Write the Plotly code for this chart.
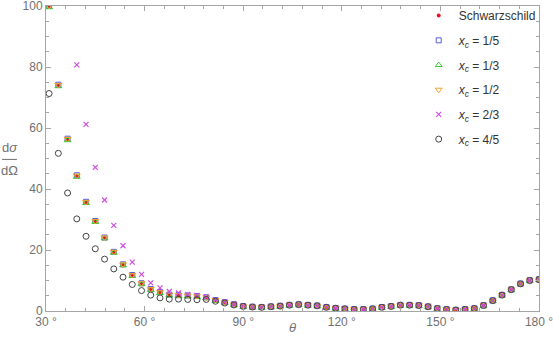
import plotly.graph_objects as go

# scattering angle (degrees)
theta = [30.938, 33.75, 36.563, 39.375, 42.188, 45.0, 47.813, 50.625, 53.438, 56.25,
         59.063, 61.875, 64.688, 67.5, 70.313, 73.125, 75.938, 78.75, 81.563, 84.375,
         87.188, 90.0, 92.813, 95.625, 98.438, 101.25, 104.063, 106.875, 109.688, 112.5,
         115.313, 118.125, 120.938, 123.75, 126.563, 129.375, 132.188, 135.0, 137.813, 140.625,
         143.438, 146.25, 149.063, 151.875, 154.688, 157.5, 160.313, 163.125, 165.938, 168.75,
         171.563, 174.375, 177.188, 180.0]

schwarzschild = [100.0, 74.0, 56.3, 44.3, 35.6, 29.4, 24.0, 19.3, 15.2, 11.7,
                 9.0, 7.1, 6.1, 5.3, 5.1, 5.0, 4.8, 4.4, 3.5, 2.8,
                 2.1, 1.5, 1.3, 1.2, 1.4, 1.6, 1.9, 2.1, 1.9, 1.7,
                 1.2, 0.9, 0.7, 0.5, 0.5, 0.7, 1.2, 1.5, 1.9, 1.9,
                 1.8, 1.4, 0.8, 0.5, 0.3, 0.5, 0.8, 1.8, 3.4, 5.2,
                 7.0, 8.9, 10.0, 10.3]

xc_1_5 = [100.0, 74.2, 56.5, 44.5, 35.8, 29.5, 24.1, 19.4, 15.3, 11.8,
          9.1, 7.2, 6.2, 5.4, 5.2, 5.1, 4.9, 4.5, 3.6, 2.9,
          2.2, 1.6, 1.4, 1.3, 1.5, 1.7, 2.0, 2.2, 2.0, 1.8,
          1.3, 1.0, 0.8, 0.6, 0.6, 0.8, 1.3, 1.6, 2.0, 2.0,
          1.9, 1.5, 0.9, 0.6, 0.4, 0.6, 0.9, 1.9, 3.5, 5.3,
          7.1, 9.0, 10.1, 10.4]

xc_1_3 = [99.6, 73.7, 56.0, 44.0, 35.4, 29.2, 23.8, 19.1, 15.0, 11.5,
          8.8, 6.9, 5.9, 5.1, 4.9, 4.8, 4.6, 4.2, 3.3, 2.6,
          1.9, 1.3, 1.1, 1.0, 1.2, 1.4, 1.7, 1.9, 1.7, 1.5,
          1.0, 0.7, 0.5, 0.3, 0.3, 0.5, 1.0, 1.3, 1.7, 1.7,
          1.6, 1.2, 0.6, 0.3, 0.1, 0.3, 0.6, 1.6, 3.2, 5.0,
          6.8, 8.7, 9.8, 10.1]

xc_1_2 = [100.0, 74.1, 56.4, 44.4, 35.7, 29.5, 24.1, 19.4, 15.3, 11.8,
          9.1, 7.2, 6.2, 5.4, 5.2, 5.1, 4.9, 4.5, 3.6, 2.9,
          2.2, 1.6, 1.4, 1.3, 1.5, 1.7, 2.0, 2.2, 2.0, 1.8,
          1.3, 1.0, 0.8, 0.6, 0.6, 0.8, 1.3, 1.6, 2.0, 2.0,
          1.9, 1.5, 0.9, 0.6, 0.4, 0.6, 0.9, 1.9, 3.5, 5.3,
          7.1, 9.0, 10.1, 10.4]

xc_2_3 = [None, None, None, 80.7, 61.2, 47.1, 36.4, 28.1, 21.4, 16.0,
          12.0, 9.2, 7.6, 6.4, 5.9, 5.4, 5.1, 4.6, 3.7, 2.9,
          2.2, 1.6, 1.3, 1.2, 1.4, 1.6, 1.9, 2.1, 1.9, 1.7,
          1.2, 0.9, 0.7, 0.5, 0.5, 0.7, 1.2, 1.5, 1.9, 1.9,
          1.8, 1.4, 0.8, 0.5, 0.3, 0.5, 0.8, 1.8, 3.4, 5.2,
          7.0, 8.9, 10.0, 10.3]

xc_4_5 = [71.3, 51.7, 38.7, 30.2, 24.5, 20.4, 17.0, 13.8, 11.1, 8.7,
          6.7, 5.2, 4.3, 3.9, 3.9, 3.8, 3.7, 3.8, 3.2, 2.6,
          2.0, 1.5, 1.3, 1.2, 1.4, 1.6, 1.9, 2.1, 1.9, 1.7,
          1.2, 0.9, 0.7, 0.5, 0.5, 0.7, 1.2, 1.5, 1.9, 1.9,
          1.8, 1.4, 0.8, 0.5, 0.3, 0.5, 0.8, 1.8, 3.4, 5.2,
          7.0, 8.9, 10.0, 10.3]

x_tickvals = [30, 60, 90, 120, 150, 180]
x_ticktext = ["30 °", "60 °", "90 °", "120 °", "150 °", "180 °"]
y_tickvals = [0, 20, 40, 60, 80, 100]

series = [
    ("Schwarzschild", schwarzschild, dict(symbol="circle", size=4, color="#e8141e")),
    ("<i>x</i><sub><i>c</i></sub> = 1/5", xc_1_5,
     dict(symbol="square-open", size=5, color="#5a5ad8", line=dict(width=1))),
    ("<i>x</i><sub><i>c</i></sub> = 1/3", xc_1_3,
     dict(symbol="triangle-up-open", size=6, color="#3cc83c", line=dict(width=1))),
    ("<i>x</i><sub><i>c</i></sub> = 1/2", xc_1_2,
     dict(symbol="triangle-down-open", size=6, color="#f0a02a", line=dict(width=1))),
    ("<i>x</i><sub><i>c</i></sub> = 2/3", xc_2_3,
     dict(symbol="x-thin-open", size=5, color="#cc4ee0", line=dict(width=1.2))),
    ("<i>x</i><sub><i>c</i></sub> = 4/5", xc_4_5,
     dict(symbol="circle-open", size=6, color="#444444", line=dict(width=1))),
]

fig = go.Figure()
for i, (name, vals, mk) in enumerate(series):
    fig.add_trace(go.Scatter(x=theta, y=vals, mode="markers", name=name, marker=mk,
                             legendgroup="g%d" % i, cliponaxis=True))

axis_col = "#a6a6a6"
tick_font = dict(family="Liberation Sans, Arial, sans-serif", size=12, color="#707070")

fig.update_layout(
    width=553, height=345,
    margin=dict(l=46, r=14, t=6, b=34, autoexpand=False),
    paper_bgcolor="white", plot_bgcolor="white",
    showlegend=True,
    legend=dict(x=0.756, y=1.016, xanchor="left", yanchor="top",
                bgcolor="rgba(0,0,0,0)", borderwidth=0,
                font=dict(family="Liberation Sans, Arial, sans-serif", size=12, color="#333333"),
                itemwidth=30, tracegroupgap=5.7),
    xaxis=dict(range=[30, 180], tickvals=x_tickvals, ticktext=x_ticktext,
               showgrid=False, zeroline=False, showline=True, linecolor=axis_col, linewidth=1,
               mirror="allticks", ticks="inside", ticklen=5, tickcolor=axis_col,
               minor=dict(ticks="inside", ticklen=3, dtick=6, tickcolor=axis_col),
               tickfont=tick_font, automargin=False, ticklabeloverflow="allow"),
    yaxis=dict(range=[0, 100], tickvals=y_tickvals,
               showgrid=False, zeroline=False, showline=True, linecolor=axis_col, linewidth=1,
               mirror="allticks", ticks="inside", ticklen=5, tickcolor=axis_col,
               minor=dict(ticks="inside", ticklen=3, dtick=5, tickcolor=axis_col),
               tickfont=tick_font, automargin=False, ticklabeloverflow="allow"),
)

lab_font = dict(family="Liberation Sans, Arial, sans-serif", size=13, color="#707070")
fig.add_annotation(text="<i>θ</i>", xref="paper", yref="paper", x=0.499, y=-0.054,
                   showarrow=False, font=lab_font, xanchor="center", yanchor="middle")
fig.add_annotation(text="d<i>σ</i>", xref="paper", yref="paper", x=-0.074, y=0.535,
                   showarrow=False, font=lab_font, xanchor="center", yanchor="middle")
fig.add_annotation(text="dΩ", xref="paper", yref="paper", x=-0.074, y=0.462,
                   showarrow=False, font=lab_font, xanchor="center", yanchor="middle")
fig.add_shape(type="line", xref="paper", yref="paper", x0=-0.089, x1=-0.059, y0=0.497, y1=0.497,
              line=dict(color="#707070", width=1))

fig.write_html("out.html", config={"displayModeBar": False},
               post_script="document.body.style.margin='0';")
